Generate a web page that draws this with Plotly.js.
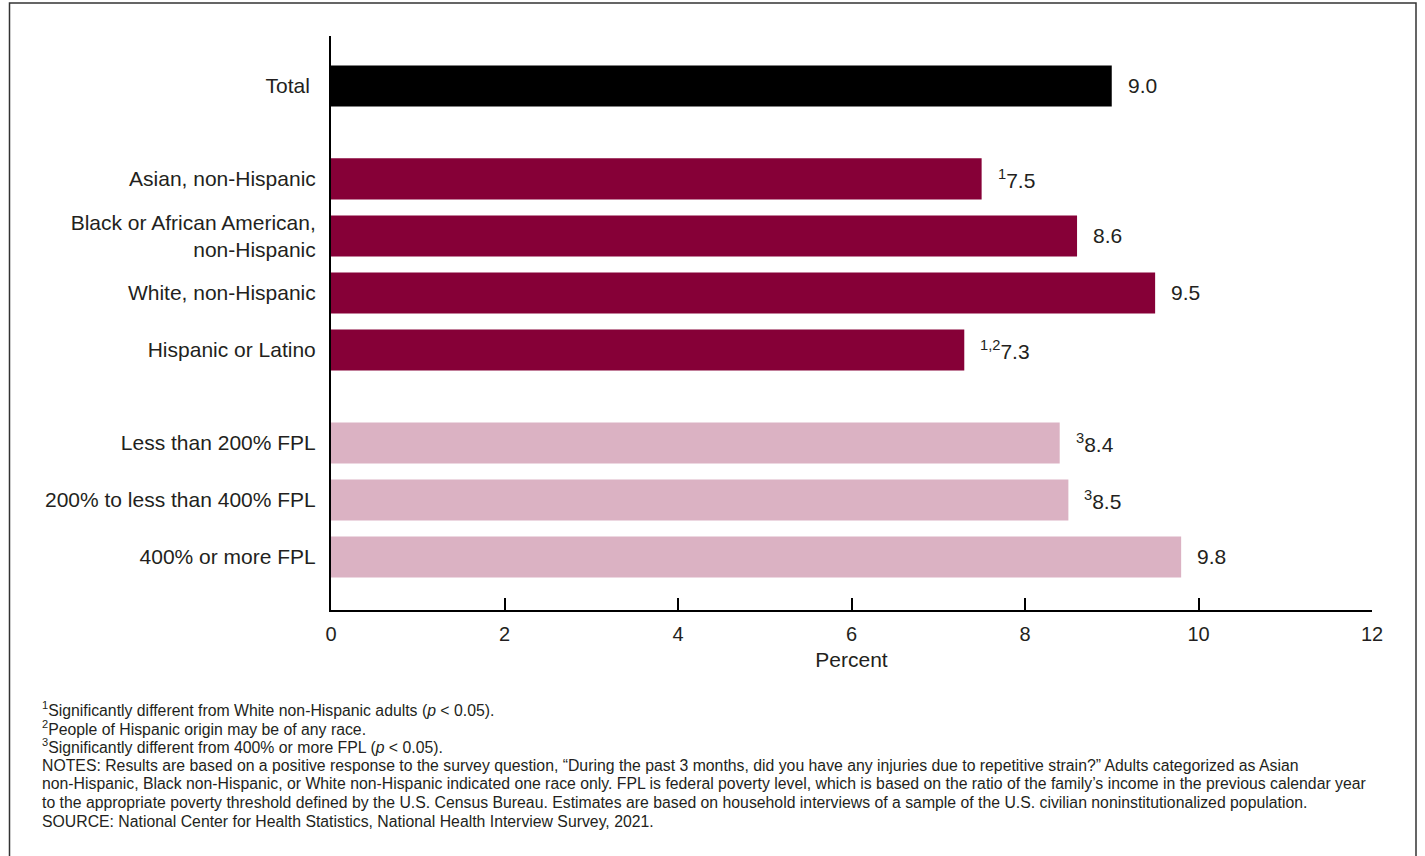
<!DOCTYPE html>
<html>
<head>
<meta charset="utf-8">
<script src="https://cdn.plot.ly/plotly-3.0.1.min.js"></script>
<style>
  html, body { margin: 0; padding: 0; background: #ffffff; }
  #chart { width: 1425px; height: 856px; }
</style>
</head>
<body>
<div id="chart"></div>
<script>
// Repetitive strain injuries in the past 3 months, adults, 2021
const categories = [
  "Total",
  "Asian, non-Hispanic",
  "Black or African American,<br>non-Hispanic",
  "White, non-Hispanic",
  "Hispanic or Latino",
  "Less than 200% FPL",
  "200% to less than 400% FPL",
  "400% or more FPL"
];
const groups = ["total", "race", "race", "race", "race", "income", "income", "income"];
const values = [9.0, 7.5, 8.6, 9.5, 7.3, 8.4, 8.5, 9.8];
const footnoteMarks = ["", "1", "", "", "1,2", "3", "3", ""];

const xTicks = [0, 2, 4, 6, 8, 10, 12];

const footnotes = [
  "<sup>1</sup>Significantly different from White non-Hispanic adults (<i>p</i> &lt; 0.05).",
  "<sup>2</sup>People of Hispanic origin may be of any race.",
  "<sup>3</sup>Significantly different from 400% or more FPL (<i>p</i> &lt; 0.05).",
  "NOTES: Results are based on a positive response to the survey question, \u201cDuring the past 3 months, did you have any injuries due to repetitive strain?\u201d Adults categorized as Asian",
  "non-Hispanic, Black non-Hispanic, or White non-Hispanic indicated one race only. FPL is federal poverty level, which is based on the ratio of the family\u2019s income in the previous calendar year",
  "to the appropriate poverty threshold defined by the U.S. Census Bureau. Estimates are based on household interviews of a sample of the U.S. civilian noninstitutionalized population.",
  "SOURCE: National Center for Health Statistics, National Health Interview Survey, 2021."
];

// Styling
const groupColors = { total: "#000000", race: "#860037", income: "#dbb2c3" };
const GROUP_GAP = 0.63;      // extra space between groups, in row units
const FONT = "Liberation Sans, Arial, Helvetica, sans-serif";
const TEXT_COLOR = "#231f20";

// Row positions: one unit per bar, with a wider gap where the group changes
const positions = [];
let pos = 0;
groups.forEach((g, i) => {
  if (i > 0) pos += 1 + (g !== groups[i - 1] ? GROUP_GAP : 0);
  positions.push(pos);
});
const lastPos = positions[positions.length - 1];

const trace = {
  type: "bar",
  orientation: "h",
  x: values,
  y: positions,
  width: 0.72,
  marker: { color: groups.map(g => groupColors[g]), line: { width: 0 } },
  hoverinfo: "skip"
};

// Value labels next to each bar
const valueLabels = values.map((v, i) => ({
  x: v,
  y: positions[i],
  xref: "x",
  yref: "y",
  xanchor: "left",
  yanchor: "middle",
  xshift: 14,
  showarrow: false,
  text: (footnoteMarks[i] ? "<sup>" + footnoteMarks[i] + "</sup>" : "") + v.toFixed(1),
  font: { family: FONT, size: 21, color: TEXT_COLOR }
}));

// Footnote block below the plot, one line per annotation
const PLOT_H = 856 - 36 - 246;
const noteLines = footnotes.map((t, i) => ({
  x: (40 - 331) / 1041,
  y: (610 - 709) / PLOT_H,
  xref: "paper",
  yref: "paper",
  xanchor: "left",
  yanchor: "middle",
  yshift: -18.7 * i,
  align: "left",
  showarrow: false,
  text: t,
  font: { family: FONT, size: 15.8, color: TEXT_COLOR }
}));

const layout = {
  width: 1425,
  height: 856,
  margin: { l: 331, r: 53, t: 36, b: 246 },
  paper_bgcolor: "#ffffff",
  plot_bgcolor: "#ffffff",
  showlegend: false,
  font: { family: FONT, color: TEXT_COLOR },
  xaxis: {
    range: [0, 12],
    tickvals: xTicks,
    ticktext: xTicks.map(String),
    ticks: "inside",
    ticklen: 12,
    tickwidth: 2,
    tickcolor: "#000000",
    showline: true,
    linewidth: 2,
    linecolor: "#000000",
    showgrid: false,
    zeroline: false,
    tickfont: { family: FONT, size: 20, color: TEXT_COLOR },
    ticklabelstandoff: 5,
    title: { text: "Percent", font: { family: FONT, size: 21, color: TEXT_COLOR }, standoff: 8 },
    fixedrange: true
  },
  yaxis: {
    range: [lastPos + 0.93, -0.876],
    tickvals: positions,
    ticktext: categories.map((c, i) => i === 0 ? c + " " : c),
    ticks: "",
    showline: true,
    linewidth: 2,
    linecolor: "#000000",
    showgrid: false,
    zeroline: false,
    tickfont: { family: FONT, size: 21, color: TEXT_COLOR },
    ticklabelstandoff: 9,
    fixedrange: true
  },
  shapes: [{
    type: "rect",
    xref: "paper",
    yref: "paper",
    x0: (9.5 - 331) / 1041,
    x1: (1416 - 331) / 1041,
    y0: (610 - 870) / PLOT_H,
    y1: (610 - 3) / PLOT_H,
    line: { color: "#333333", width: 1.5 },
    fillcolor: "rgba(0,0,0,0)",
    layer: "below"
  }],
  annotations: valueLabels.concat(noteLines)
};

Plotly.newPlot("chart", [trace], layout, { displayModeBar: false, staticPlot: true });
</script>
</body>
</html>
